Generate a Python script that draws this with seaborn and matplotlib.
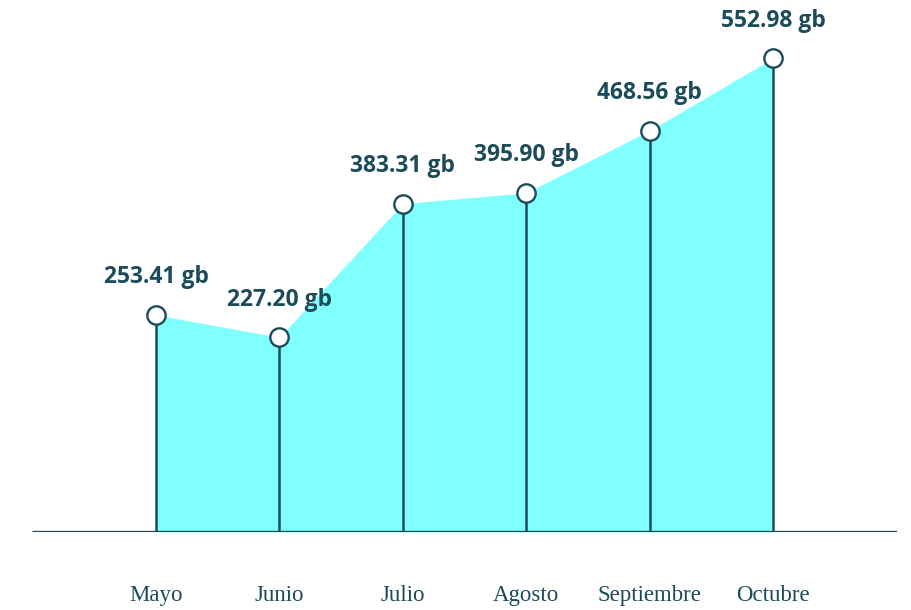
import matplotlib
matplotlib.use("Agg")
import matplotlib.pyplot as plt
import seaborn as sns
import pandas as pd

# Data
months = ["Mayo", "Junio", "Julio", "Agosto", "Septiembre", "Octubre"]
usage_gb = [253.41, 227.20, 383.31, 395.90, 468.56, 552.98]

df = pd.DataFrame({"month": months, "gb": usage_gb})
df["pos"] = range(len(df))

dark = "#1c4b59"
fill = "#80ffff"

sns.set_theme(style="white")

fig = plt.figure(figsize=(9.12, 6.10), dpi=100)
ax = fig.add_axes([32 / 912, 1 - 532 / 610, (897 - 32) / 912, 532 / 610])

# filled area under the line
ax.fill_between(df["pos"], 0, df["gb"], color=fill, linewidth=0, zorder=1)

# stems
ax.vlines(df["pos"], 0, df["gb"], color=dark, linewidth=1.8, zorder=2)

# baseline
ax.axhline(0, color=dark, linewidth=2.4, zorder=3, solid_capstyle="butt")

# markers
sns.scatterplot(data=df, x="pos", y="gb", s=175, color="white",
                edgecolor=dark, linewidth=1.7, zorder=4, ax=ax, legend=False)

# value labels
for p, v in zip(df["pos"], df["gb"]):
    ax.annotate(f"{v:.2f} gb", (p, v), xytext=(0, 27), textcoords="offset points",
                ha="center", va="center", fontsize=16.5, fontweight="bold",
                color=dark, family="Open Sans")

ax.set_xlim(-1.005, 6.005)
ax.set_ylim(0, 621)
ax.set_xticks(df["pos"])
ax.set_xticklabels(df["month"], family="Liberation Serif", fontsize=16.5, color=dark)
ax.tick_params(axis="x", length=0, pad=38)
ax.set_yticks([])
ax.set_xlabel("")
ax.set_ylabel("")
for s in ax.spines.values():
    s.set_visible(False)
ax.set_facecolor("none")

fig.savefig("out.png", dpi=100)
